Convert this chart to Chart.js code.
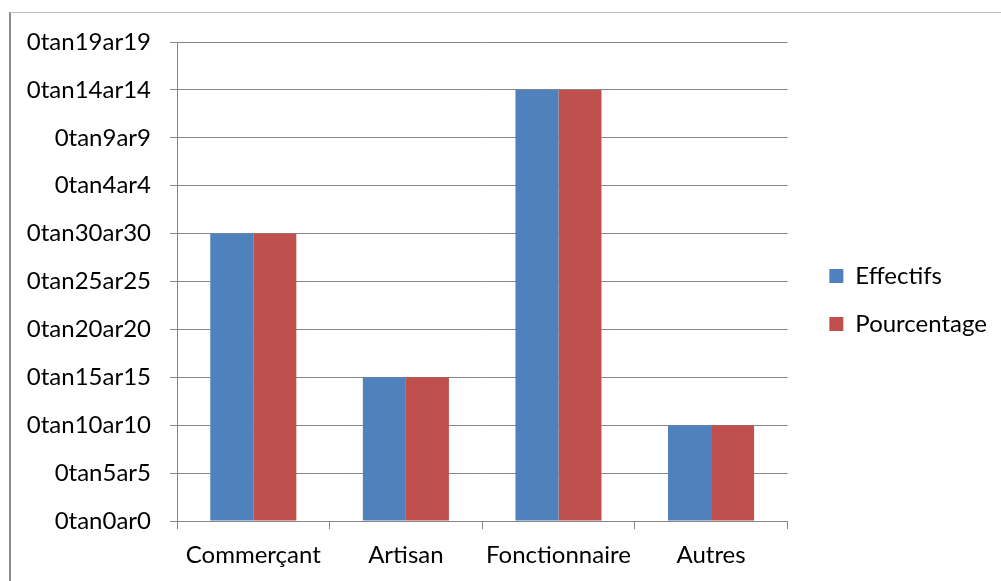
<!DOCTYPE html>
<html>
<head>
<meta charset="utf-8">
<script src="https://cdn.jsdelivr.net/npm/chart.js@4"></script>
<style>
  html, body { margin: 0; padding: 0; background: #fff; }
  #wrap { position: relative; width: 1001px; height: 581px; overflow: hidden; }
  #frame {
    position: absolute; left: 9px; top: 12px; width: 1100px; height: 700px;
    border-left: 2px solid #8c8c8c; border-top: 1px solid #bdbdbd;
    pointer-events: none; box-sizing: border-box;
  }
  canvas { position: absolute; left: 0; top: 0; }
</style>
</head>
<body>
<div id="wrap">
  <canvas id="c" width="1001" height="581"></canvas>
  <div id="frame"></div>
</div>
<script>
// Categories and series
const categories = ['Commerçant', 'Artisan', 'Fonctionnaire', 'Autres'];
const effectifs = [30, 15, 45, 10];
const pourcentage = [30, 15, 45, 10];
// Value-axis labels, one per step of 5 from 0 to 50
const yTickLabels = [
  '0tan0ar0', '0tan5ar5', '0tan10ar10', '0tan15ar15', '0tan20ar20',
  '0tan25ar25', '0tan30ar30', '0tan4ar4', '0tan9ar9', '0tan14ar14', '0tan19ar19'
];

const FONT = 'Lato';
const FONT_SIZE = 24;
const gridColor = '#868686';

// Empty spacer axes used only to reserve room around the plot area
const spacer = (position, size, horizontal) => ({
  type: horizontal ? 'category' : 'linear',
  position,
  display: true,
  grid: { display: false, drawTicks: false },
  border: { display: false },
  ticks: { display: false },
  afterFit(s) { if (horizontal) { s.height = size; } else { s.width = size; } }
});

new Chart(document.getElementById('c'), {
  type: 'bar',
  data: {
    labels: categories,
    datasets: [
      { label: 'Effectifs', data: effectifs, backgroundColor: '#4F81BD',
        categoryPercentage: 0.564, barPercentage: 1.0 },
      { label: 'Pourcentage', data: pourcentage, backgroundColor: '#C0504D',
        categoryPercentage: 0.564, barPercentage: 1.0 }
    ]
  },
  options: {
    responsive: false,
    animation: false,
    layout: { padding: { left: 0, top: 19, right: 4, bottom: 0 } },
    plugins: {
      tooltip: { enabled: false },
      legend: {
        position: 'right',
        maxWidth: 400,
        labels: {
          font: { family: FONT, size: FONT_SIZE },
          color: '#000',
          boxWidth: 14,
          boxHeight: 14,
          padding: 24
        }
      }
    },
    scales: {
      x: {
        grid: { display: true, drawOnChartArea: false, color: gridColor, tickLength: 8, offset: true },
        border: { display: true, color: gridColor, width: 1 },
        ticks: { font: { family: FONT, size: FONT_SIZE }, color: '#000', padding: 12, maxRotation: 0 },
        afterFit(s) { s.height = 60; }
      },
      y: {
        min: 0, max: 50,
        grid: { color: gridColor, tickLength: 7 },
        border: { display: true, color: gridColor, width: 1 },
        ticks: {
          stepSize: 5,
          font: { family: FONT, size: FONT_SIZE },
          color: '#000',
          padding: 19,
          callback: (v) => yTickLabels[Math.round(v / 5)]
        },
        afterFit(s) { s.width = 177; }
      },
      topGap: spacer('top', 23, true),
      rightGap: spacer('right', 18, false)
    }
  }
});
</script>
</body>
</html>
